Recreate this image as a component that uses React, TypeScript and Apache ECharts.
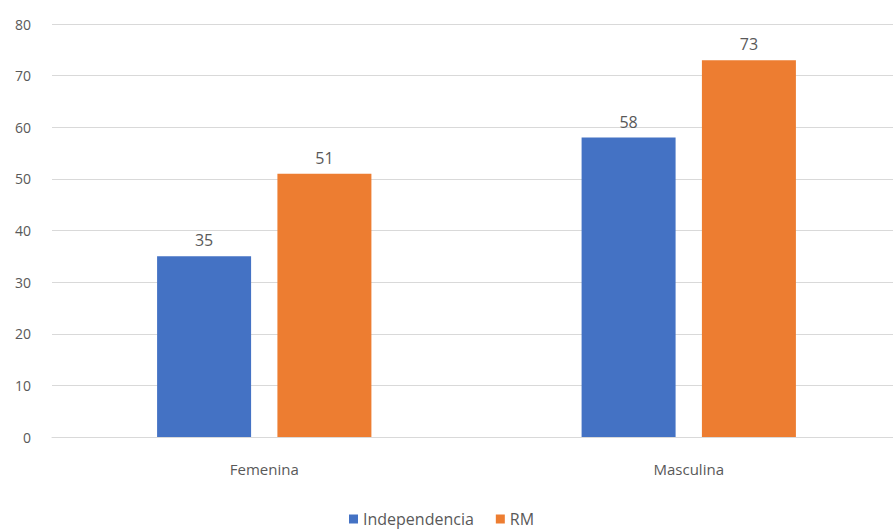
import React, { useEffect, useRef } from "react";
import * as echarts from "echarts";

const categories = ["Femenina", "Masculina"];
const independencia = [35, 58];
const rm = [51, 73];
const seriesNames = ["Independencia", "RM"];

export default function App() {
  const ref = useRef<HTMLDivElement>(null);
  useEffect(() => {
    document.body.style.margin = "0";
    document.body.style.overflow = "hidden";
    const chart = echarts.init(ref.current!, null, { renderer: "svg" });
    const font = "'Open Sans', 'Liberation Sans', sans-serif";
    const label = { show: true, position: "top", color: "#595959", fontSize: 16, fontFamily: font, distance: 8 };
    chart.setOption({
      animation: false,
      backgroundColor: "#ffffff",
      grid: { left: 52, right: 0, top: 24, bottom: 94 },
      legend: {
        top: 511,
        left: 349,
        padding: 0,
        itemWidth: 9,
        itemHeight: 9,
        itemGap: 22,
        icon: "rect",
        textStyle: { color: "#595959", fontSize: 16, fontFamily: font, lineHeight: 16 },
        data: seriesNames,
      },
      xAxis: {
        type: "category",
        data: categories,
        axisLine: { lineStyle: { color: "#d9d9d9" } },
        axisTick: { show: false },
        axisLabel: { color: "#595959", fontSize: 15, fontFamily: font, margin: 24 },
      },
      yAxis: {
        type: "value",
        min: 0,
        max: 80,
        interval: 10,
        axisLine: { show: false },
        axisTick: { show: false },
        axisLabel: { color: "#595959", fontSize: 14, fontFamily: font, margin: 21 },
        splitLine: { lineStyle: { color: "#d9d9d9" } },
      },
      series: [
        {
          name: seriesNames[0],
          type: "bar",
          data: independencia,
          barWidth: 94,
          barGap: "28%",
          itemStyle: { color: "#4472C4" },
          label,
        },
        {
          name: seriesNames[1],
          type: "bar",
          data: rm,
          barWidth: 94,
          itemStyle: { color: "#ED7D31" },
          label,
        },
      ],
    });
    return () => chart.dispose();
  }, []);
  return <div ref={ref} style={{ width: 901, height: 531 }} />;
}
